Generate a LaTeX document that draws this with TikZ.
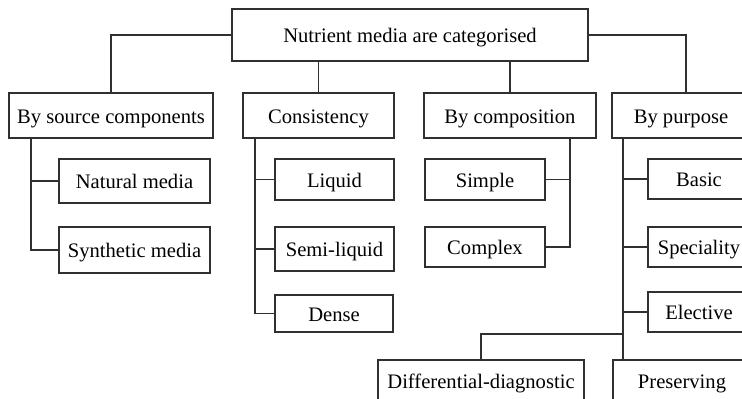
\documentclass[tikz,border=0pt]{standalone}
\usepackage{fontspec}
\setmainfont{Liberation Serif}
\begin{document}
\begin{tikzpicture}[x=1pt,y=-1pt,
  box/.style={draw=linegray, line width=1.9pt, fill=white, inner sep=0pt,
    text height=18pt, text depth=3pt,
    font=\fontsize{20.6}{24}\selectfont, text=black},
  link/.style={draw=linegray, line width=1.9pt}]
\definecolor{linegray}{HTML}{303030}
\useasboundingbox (0,0) rectangle (742,399);
\clip (0,0) rectangle (742,399);
\fill[white] (0,0) rectangle (742,399);

% root and first-level categories
\node[box, minimum width=356, minimum height=52] (root) at (410,35) {Nutrient media are categorised};
\node[box, minimum width=204, minimum height=45] (src) at (111,115.5) {By source components};
\node[box, minimum width=151, minimum height=45] (cons) at (318.5,115.5) {Consistency};
\node[box, minimum width=172, minimum height=45] (comp) at (510,115.5) {By composition};
\node[box, minimum width=138, minimum height=45] (purp) at (681,115.5) {By purpose};

% by source components
\node[box, minimum width=151, minimum height=44] (nat) at (134.5,181) {Natural media};
\node[box, minimum width=151, minimum height=46] (syn) at (134.5,250) {Synthetic media};

% consistency
\node[box, minimum width=119, minimum height=41] (liq) at (334.5,179.5) {Liquid};
\node[box, minimum width=119, minimum height=44] (semi) at (334.5,249) {Semi-liquid};
\node[box, minimum width=118, minimum height=37] (dense) at (334,313.5) {Dense};

% by composition
\node[box, minimum width=120, minimum height=41] (simple) at (485,179.5) {Simple};
\node[box, minimum width=120, minimum height=40] (complex) at (485,247) {Complex};

% by purpose
\node[box, minimum width=102, minimum height=40] (basic) at (699,179) {Basic};
\node[box, minimum width=102, minimum height=40] (spec) at (699,247) {Speciality};
\node[box, minimum width=102, minimum height=40] (elec) at (699,312) {Elective};
\node[box, minimum width=206, minimum height=42] (diff) at (481,381) {Differential-diagnostic};
\node[box, minimum width=138, minimum height=42] (pres) at (682,381) {Preserving};

% bus lines
\coordinate (srcbus) at (31,138);
\coordinate (consbus) at (255,138);
\coordinate (compbus) at (570,138);
\coordinate (purpbus) at (623,138);
\coordinate (diffturn) at (623,334);

% root to categories
\draw[link] (root.west) -| (src.north);
\draw[link] (root.south -| cons.north) -- (cons.north);
\draw[link] (root.south -| comp.north) -- (comp.north);
\draw[link] (root.east) -| ([xshift=5pt]purp.north);

% category to items
\draw[link] (srcbus) |- (syn.west);
\draw[link] (srcbus |- nat.west) -- (nat.west);

\draw[link] (consbus) |- (dense.west);
\draw[link] (consbus |- liq.west) -- (liq.west);
\draw[link] (consbus |- semi.west) -- (semi.west);

\draw[link] (compbus) |- (complex.east);
\draw[link] (compbus |- simple.east) -- (simple.east);

\draw[link] (purpbus) -- (purpbus |- pres.north);
\draw[link] (purpbus |- basic.west) -- (basic.west);
\draw[link] (purpbus |- spec.west) -- (spec.west);
\draw[link] (purpbus |- elec.west) -- (elec.west);
\draw[link] (diffturn) -| (diff.north);
\end{tikzpicture}
\end{document}
